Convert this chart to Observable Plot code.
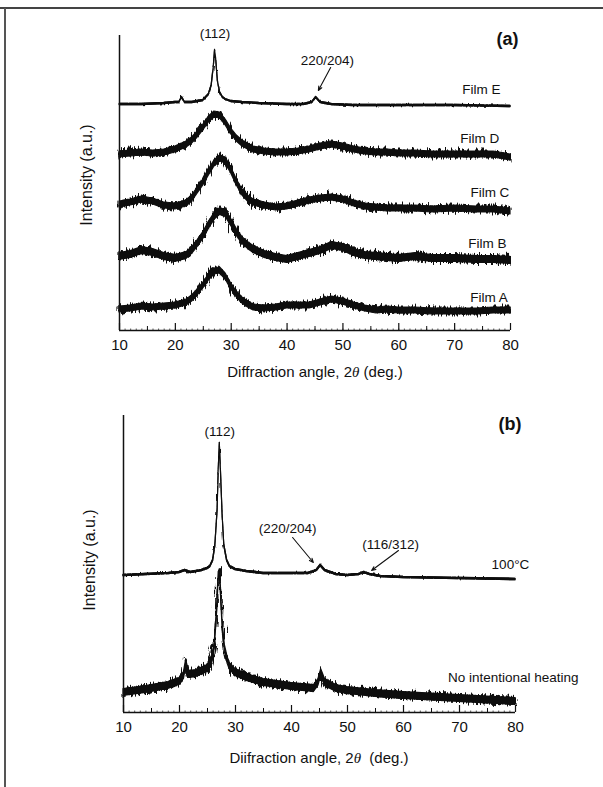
<!DOCTYPE html>
<html>
<head>
<meta charset="utf-8">
<script src="https://cdn.jsdelivr.net/npm/d3@7"></script>
<script src="https://cdn.jsdelivr.net/npm/@observablehq/plot@0.6"></script>
<style>
html,body{margin:0;padding:0;background:#fff;overflow:hidden;}
#page{position:relative;width:603px;height:787px;overflow:hidden;font-family:"Liberation Sans",Arial,sans-serif;color:#111;}
.frameT{position:absolute;left:0;top:7px;width:603px;height:1.5px;background:#444;}
.frameL{position:absolute;left:4px;top:8px;width:1.5px;height:779px;background:#555;}
.panel{position:absolute;left:0;}
.panel svg{display:block;}
.xtitle{position:absolute;font-size:15px;line-height:18px;white-space:nowrap;transform:translateX(-50%);}
.ytitle{position:absolute;font-size:16px;line-height:18px;white-space:nowrap;transform:translate(-50%,-50%) rotate(-90deg);}
.th{font-family:"Liberation Serif",serif;font-style:italic;}
</style>
</head>
<body>
<svg width="0" height="0" style="position:absolute">
  <defs>
    <filter id="jitter" x="-2%" y="-60%" width="104%" height="220%">
      <feTurbulence type="fractalNoise" baseFrequency="0.6 0.05" numOctaves="2" seed="4" result="n"/>
      <feDisplacementMap in="SourceGraphic" in2="n" scale="12" xChannelSelector="B" yChannelSelector="R" result="d"/>
      <feMerge><feMergeNode in="d"/><feMergeNode in="SourceGraphic"/></feMerge>
    </filter>
    <filter id="jitterFine" x="-2%" y="-60%" width="104%" height="220%">
      <feTurbulence type="fractalNoise" baseFrequency="0.6 0.08" numOctaves="1" seed="7" result="n"/>
      <feDisplacementMap in="SourceGraphic" in2="n" scale="3" xChannelSelector="B" yChannelSelector="R" result="d"/>
      <feMerge><feMergeNode in="d"/><feMergeNode in="SourceGraphic"/></feMerge>
    </filter>
  </defs>
</svg>
<div id="page">
  <div class="frameT"></div>
  <div class="frameL"></div>
  <div id="pa" class="panel" style="top:0px"></div>
  <div id="pb" class="panel" style="top:380px"></div>
  <div class="ytitle" style="left:87px;top:175px">Intensity (a.u.)</div>
  <div class="ytitle" style="left:90px;top:560px">Intensity (a.u.)</div>
  <div class="xtitle" style="left:315px;top:363px">Diffraction angle, 2<span class="th">θ</span> (deg.)</div>
  <div class="xtitle" style="left:319px;top:749px">Diifraction angle, 2<span class="th">θ</span>&nbsp; (deg.)</div>
</div>
<script>
// ---------- axis ticks ----------
const xTicks = [10, 20, 30, 40, 50, 60, 70, 80];
const xHalfTicks = [15, 25, 35, 45, 55, 65, 75];
const xMinorTicks = d3.range(10, 81, 1);

// ---------- panel (a): broad-peak films, read at these angles ----------
const anglesBroad = [10,12,14,16,18,20,22,23,24,25,26,27,28,29,30,31,32,33,34,36,38,40,42,44,46,48,50,52,54,56,58,60,63,66,70,74,77,80];
const filmA = [21,22,24,23,24,25,28,32,38,45,53,59,60,54,44,36,30,26,23,22,23,25,25,25,28,31,29,25,22,20,21,20,20,19,19,19,20,20];
const filmB = [74,76,80,78,74,72,75,80,87,95,105,114,119,117,108,98,90,85,81,76,73,71,74,77,80,85,83,78,75,74,73,72,74,72,72,71,71,70];
const filmC = [126,128,131,129,125,124,127,132,140,148,158,167,172,170,160,148,138,132,128,125,123,124,127,130,132,133,131,127,124,123,122,122,122,121,122,121,121,119];
const filmD = [176,177,178,177,178,181,186,190,196,203,211,216,215,208,199,192,187,184,181,179,178,178,179,181,184,186,184,181,179,178,178,177,177,176,176,176,176,173];

// Film E (sharp peaks)
const anglesE = [10,14,18,20,20.7,21.2,21.7,23,25,26,26.5,26.9,27.1,27.3,27.6,28,28.5,29,30,32,35,40,43,44.5,45.2,46,48,52,60,70,80];
const filmE = [226,226,227,228,228,233,228,228,230,236,245,265,280,272,250,238,233,231,229,228,227,226,226,228,233,228,226,225,225,225,224];

// noise band half-width (a.u.)
const noiseA = {A: 3, B: 3.4, C: 3, D: 3, E: 0.6};

// labels panel (a)
const filmNames = ["Film E", "Film D", "Film C", "Film B", "Film A"];
const filmLabelX = [78.2, 78.0, 79.8, 79.3, 79.5];
const filmLabelY = [241, 192, 138, 87, 33];

const annotA = [{text: "(112)", x: 27.1, y: 297}, {text: "220/204)", x: 47.2, y: 270}];
const arrowsA = [{x1: 47.8, y1: 263, x2: 45.6, y2: 240}];

// ---------- panel (b) ----------
const angles100 = [10,14,18,20,21,22,24,25,25.5,26,26.4,26.8,27.0,27.2,27.4,27.7,28,28.5,29,30,32,35,40,43,44.5,45.2,46,48,50,52,53,54,56,60,70,80];
const heated100 = [137,138,139,140,142,140,142,144,146,152,167,202,242,269,242,197,167,152,146,143,141,139,139,139,142,147,142,138,137,138,140,138,136,135,134,133];

const anglesNH = [10,14,18,20,20.8,21.2,21.6,23,25,25.8,26.3,26.7,27.0,27.2,27.4,27.7,28.1,28.6,29,30,32,35,40,44,44.8,45.3,46,48,50,55,60,70,80];
const noHeating = [20,23,27,31,37,50,38,39,44,52,67,102,137,140,122,87,64,52,46,40,35,30,26,24,30,40,30,24,22,19,17,14,11];

const noiseB = {nh: 3.4, h100: 0.8};

const annotB = [
  {text: "(112)", x: 27.2, y: 281, anchor: "middle"},
  {text: "(220/204)", x: 39.3, y: 184, anchor: "middle"},
  {text: "(116/312)", x: 57.7, y: 168, anchor: "middle"},
  {text: "100°C", x: 79.1, y: 148, anchor: "end"},
  {text: "No intentional heating", x: 79.6, y: 35, anchor: "end"}
];
const arrowsB = [
  {x1: 40.2, y1: 175, x2: 43.9, y2: 150},
  {x1: 59.1, y1: 162, x2: 54.3, y2: 142}
];

// ---------- helpers ----------
function band(angles, values, noise) {
  return angles.map((x, i) => ({x, y: values[i], lo: values[i] - noise, hi: values[i] + noise}));
}
function traceMarks(data, width) {
  return [
    Plot.areaY(data, {x: "x", y1: "lo", y2: "hi", fill: "#111", stroke: "#111", strokeWidth: width, curve: "linear"})
  ];
}
function frameMarks() {
  return [
    Plot.ruleX(xMinorTicks, {x: d => d, y1: 0, y2: 0, insetBottom: 1.5, stroke: "#333", strokeWidth: 0.8}),
    Plot.ruleX(xHalfTicks, {x: d => d, y1: 0, y2: 0, insetBottom: 4, stroke: "#111", strokeWidth: 1}),
    Plot.ruleX(xTicks, {x: d => d, y1: 0, y2: 0, insetBottom: 7, stroke: "#111", strokeWidth: 1.2}),
    Plot.ruleY([0], {stroke: "#111", strokeWidth: 1.5}),
    Plot.ruleX([10], {stroke: "#111", strokeWidth: 1.5}),
    Plot.axisX({ticks: xTicks, tickSize: 0, tickPadding: 9, fontSize: 15, label: null})
  ];
}
function applyTexture(svg, filters) {
  const areas = svg.querySelectorAll('g[aria-label="area"]');
  areas.forEach((g, i) => { if (filters[i]) g.setAttribute("filter", `url(#${filters[i]})`); });
}
const baseStyle = {fontFamily: "'Liberation Sans', Arial, sans-serif", background: "transparent", color: "#111", overflow: "visible"};

// ---------- panel (a) ----------
const plotA = Plot.plot({
  width: 603, height: 380,
  marginLeft: 119, marginRight: 93, marginTop: 35, marginBottom: 50,
  style: baseStyle,
  x: {domain: [10, 80]},
  y: {domain: [0, 295], axis: null},
  marks: [
    ...traceMarks(band(anglesBroad, filmA, noiseA.A), 1.2),
    ...traceMarks(band(anglesBroad, filmB, noiseA.B), 1.2),
    ...traceMarks(band(anglesBroad, filmC, noiseA.C), 1.2),
    ...traceMarks(band(anglesBroad, filmD, noiseA.D), 1.2),
    ...traceMarks(band(anglesE, filmE, noiseA.E), 1.1),
    ...frameMarks(),
    Plot.text(filmNames, {x: (d, i) => filmLabelX[i], y: (d, i) => filmLabelY[i], text: d => d, textAnchor: "end", fontSize: 13.5}),
    Plot.text(annotA, {x: "x", y: "y", text: "text", fontSize: 13.5}),
    Plot.arrow(arrowsA, {x1: "x1", y1: "y1", x2: "x2", y2: "y2", stroke: "#111", strokeWidth: 1.1, headLength: 6, headAngle: 45}),
    Plot.text(["(a)"], {frameAnchor: "top-right", dx: 8, dy: -3, fontSize: 18, fontWeight: "bold", text: d => d})
  ]
});
applyTexture(plotA, ["jitter", "jitter", "jitter", "jitter", "jitterFine"]);
document.getElementById("pa").appendChild(plotA);

// ---------- panel (b) ----------
const plotB = Plot.plot({
  width: 603, height: 400,
  marginLeft: 123, marginRight: 88, marginTop: 35, marginBottom: 68,
  style: baseStyle,
  x: {domain: [10, 80]},
  y: {domain: [0, 297], axis: null},
  marks: [
    ...traceMarks(band(anglesNH, noHeating, noiseB.nh), 1.2),
    ...traceMarks(band(angles100, heated100, noiseB.h100), 1.1),
    ...frameMarks(),
    Plot.text(annotB, {x: "x", y: "y", text: "text", textAnchor: d => d.anchor, fontSize: 13.5}),
    Plot.arrow(arrowsB, {x1: "x1", y1: "y1", x2: "x2", y2: "y2", stroke: "#111", strokeWidth: 1.1, headLength: 6, headAngle: 45}),
    Plot.text(["(b)"], {frameAnchor: "top-right", dx: 6, dy: 2, fontSize: 18, fontWeight: "bold", text: d => d})
  ]
});
applyTexture(plotB, ["jitter", "jitterFine"]);
document.getElementById("pb").appendChild(plotB);
</script>
</body>
</html>
